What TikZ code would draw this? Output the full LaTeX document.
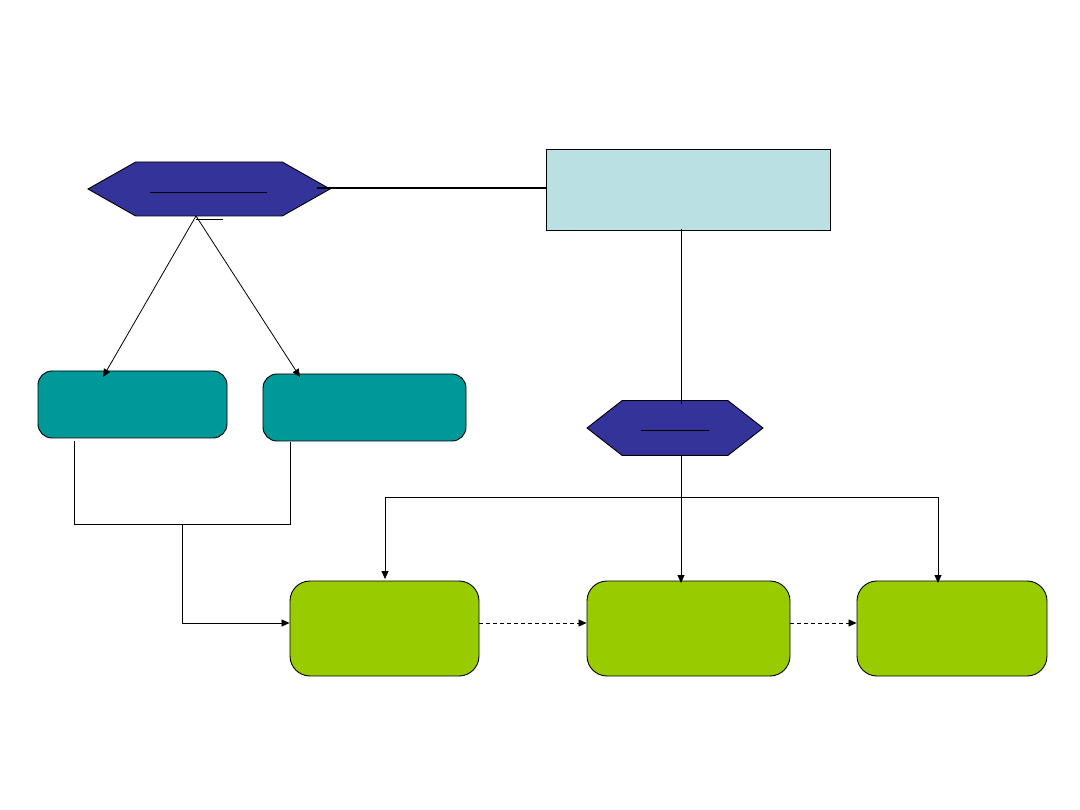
\documentclass[tikz,border=0pt]{standalone}
\usepackage{tikz}
\usetikzlibrary{shapes.symbols, arrows.meta, calc}
\usepackage{xcolor}
\definecolor{hexblue}{HTML}{333399}
\definecolor{paleblue}{HTML}{BBE0E3}
\definecolor{tealbox}{HTML}{009999}
\definecolor{limebox}{HTML}{99CC00}

\begin{document}
\begin{tikzpicture}[
    x=1pt, y=-1pt,
    hexa/.style={shape=signal, signal to=west and east, draw, line width=0.9pt, fill=hexblue, inner sep=0pt},
    infobox/.style={draw, fill=paleblue, line width=0.9pt, minimum width=284pt, minimum height=81pt},
    catbox/.style={draw, fill=tealbox, rounded corners=14pt, line width=0.9pt, minimum height=67pt},
    stagebox/.style={draw, fill=limebox, rounded corners=20pt, line width=0.9pt, minimum height=95pt},
    link/.style={line width=0.8pt},
    arr/.style={link, -{Triangle[length=8pt, width=7pt]}},
    dasharr/.style={arr, dash pattern=on 4pt off 3pt}
]
    \useasboundingbox (0,0) rectangle (1080,810);

    % top row
    \node[hexa, signal pointer angle=59, minimum width=242pt, minimum height=54pt] (hexA) at (209,189) {};
    \node[infobox] (info) at (688,189.5) {};
    \node[hexa, signal pointer angle=76, minimum width=176pt, minimum height=55pt] (hexB) at (675,428) {};

    % middle and bottom boxes
    \node[catbox, minimum width=189pt] (tealA) at (132.5,404.5) {};
    \node[catbox, minimum width=203pt] (tealB) at (364.5,407.5) {};
    \node[stagebox, minimum width=189pt] (greenA) at (384.5,628.5) {};
    \node[stagebox, minimum width=203pt] (greenB) at (688.5,628.5) {};
    \node[stagebox, minimum width=190pt] (greenC) at (952,628.5) {};

    % underlines inside the hexagons
    \draw[link] (150,192) -- (267,192);
    \draw[link] (641,430) -- (709,430);
    \draw[link] (196,219) -- (223,219);

    \coordinate (split) at (196,216);
    \coordinate (drop) at (681,229);
    \coordinate (fork) at (681,497);
    \coordinate (join) at (182,524);

    \draw[line width=1.3pt] (317,188) -- (info.west |- 0,188);
    \draw[arr] (split) -- (103,377);
    \draw[arr] (split) -- (300,377);
    \draw[link] (drop) -- (681,404);

    % collect the two teal boxes
    \draw[link] (74,441) -- (74,524) -- (290,524) -- (290,442);
    \draw[arr] (join) |- ([yshift=5.5pt]greenA.west);

    % fan out from the lower hexagon
    \draw[link] (681,455) -- (fork);
    \draw[arr] (fork) -- (681,583);
    \draw[arr] (fork) -| (385,579);
    \draw[arr] (fork) -| (938,583);

    \draw[dasharr] ([yshift=5.5pt]greenA.east) -- ([yshift=5.5pt]greenB.west);
    \draw[dasharr] ([yshift=5.5pt]greenB.east) -- ([yshift=5.5pt]greenC.west);
\end{tikzpicture}
\end{document}
